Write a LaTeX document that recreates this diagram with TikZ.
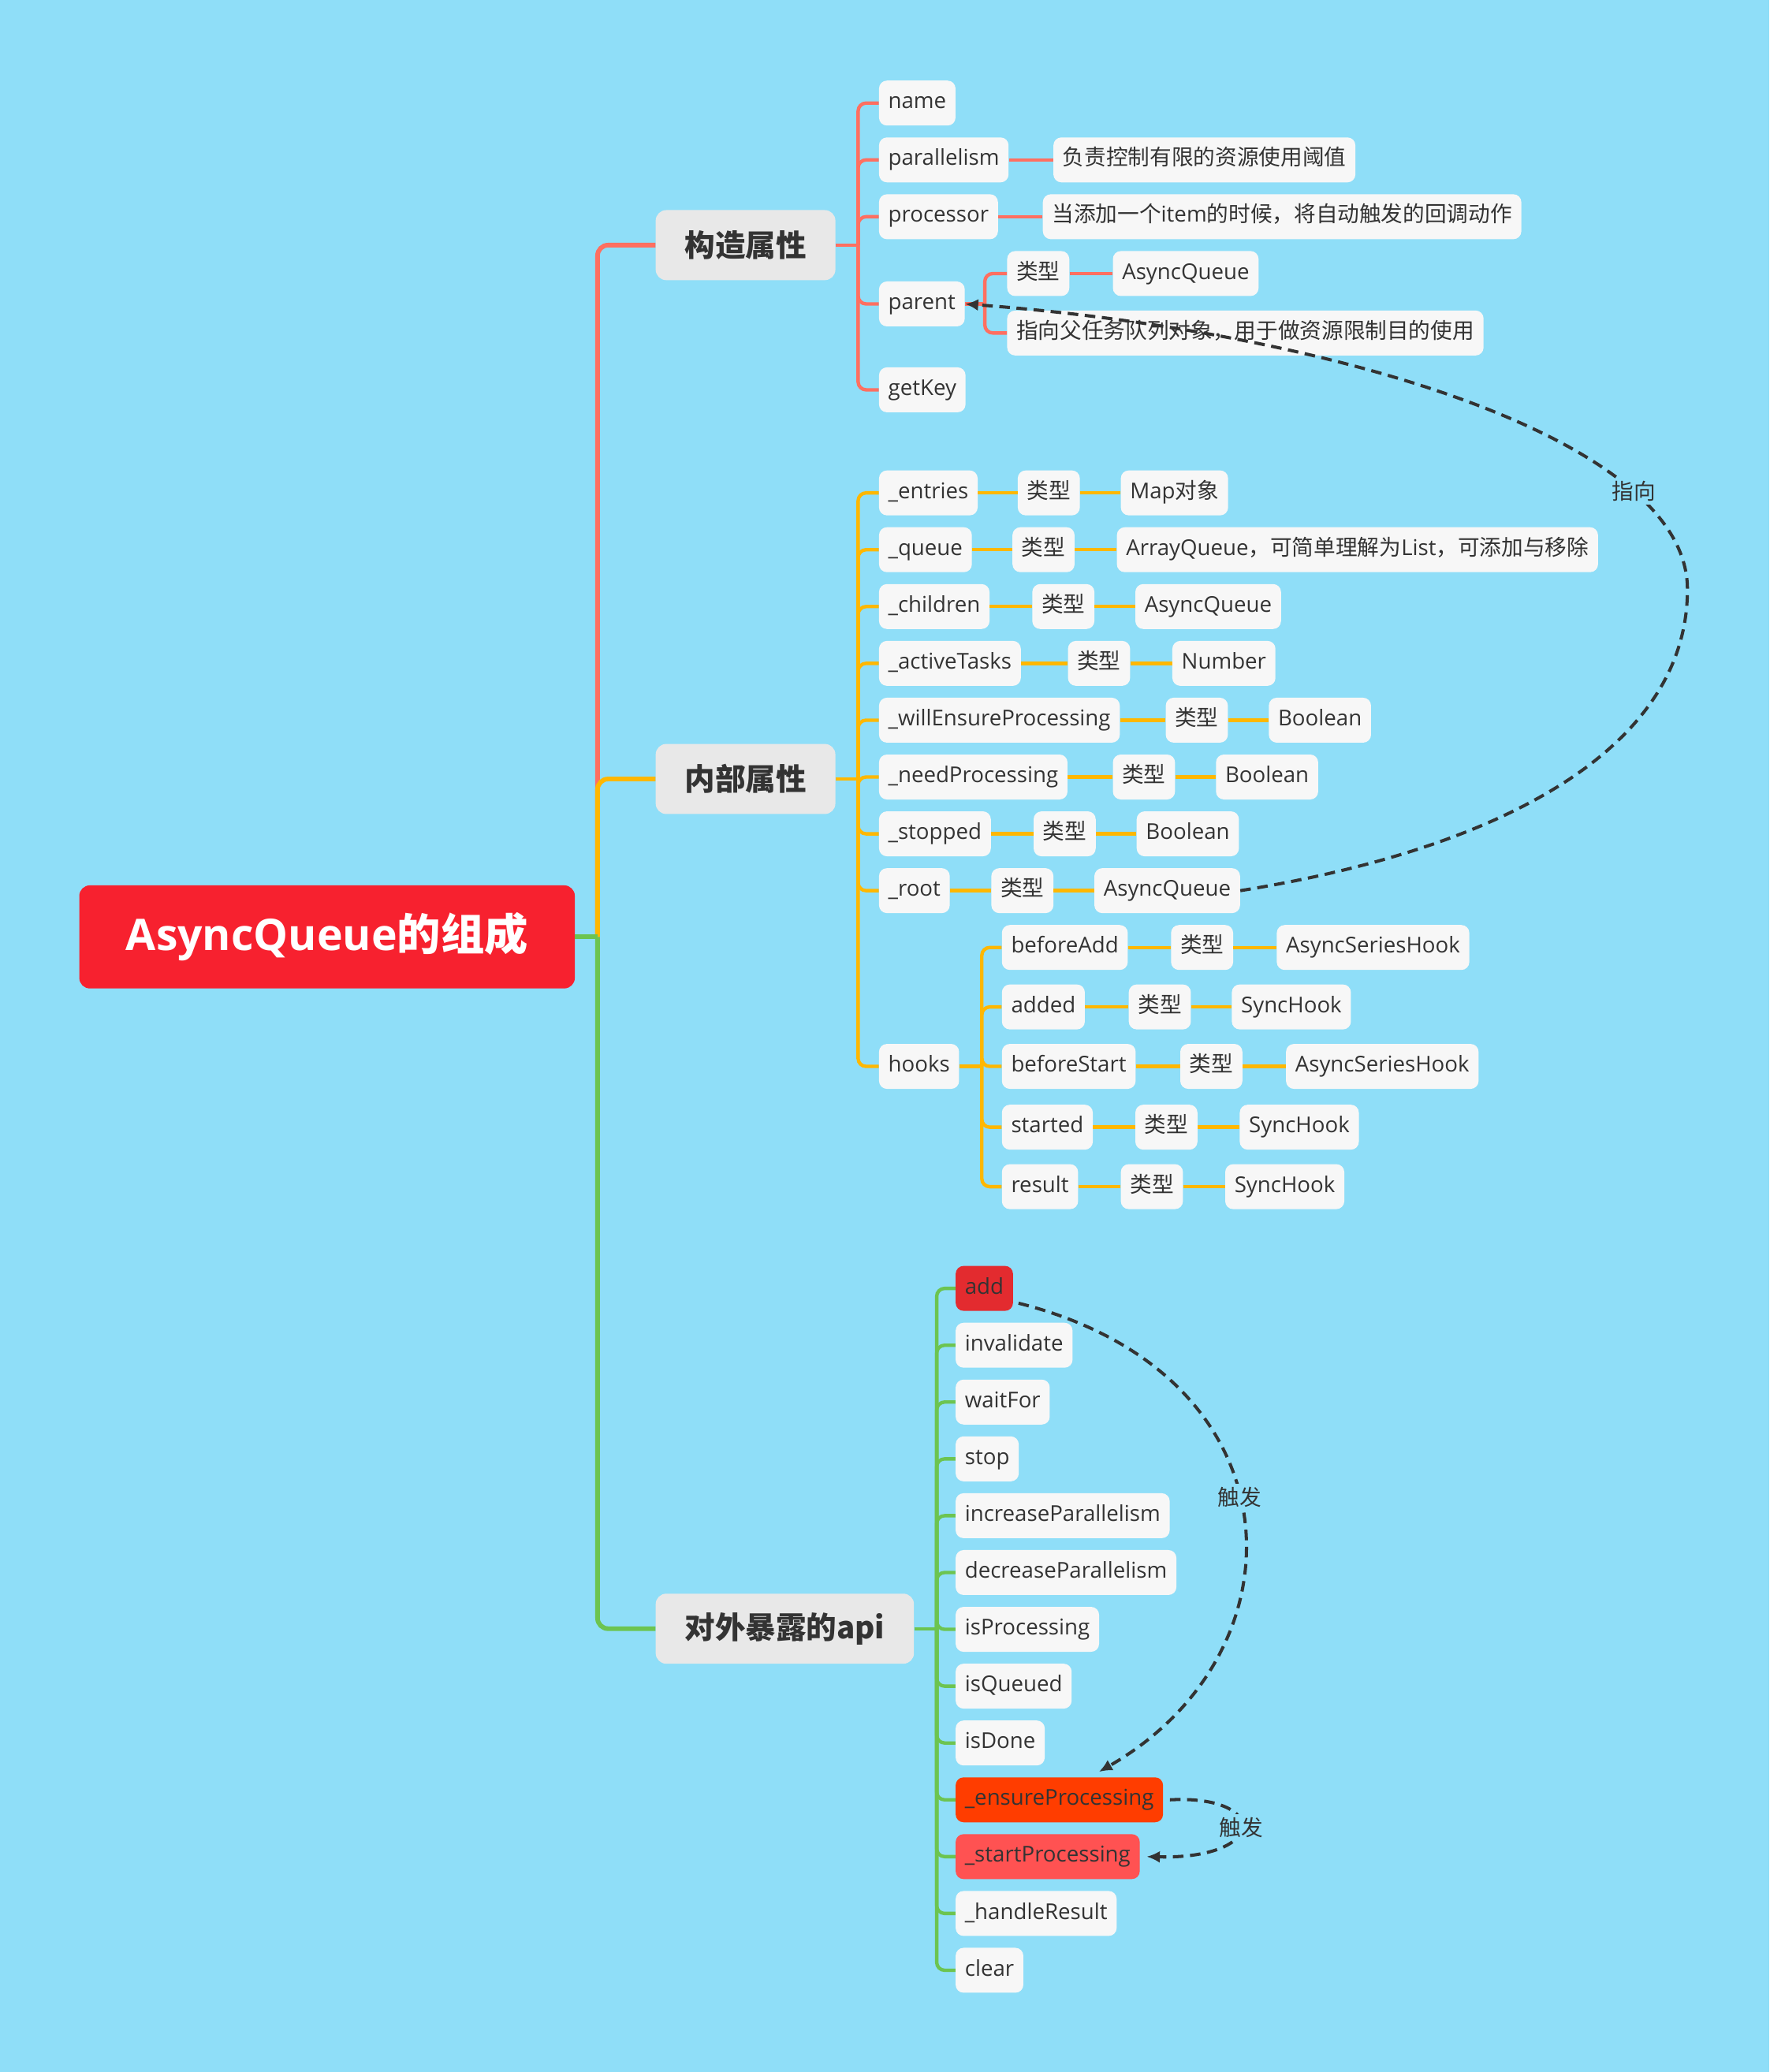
\documentclass[tikz,border=0pt]{standalone}
\usepackage{fontspec}
\setmainfont{Open Sans}
\newfontfamily\cjk{Noto Sans CJK SC}
\newcommand\zh[1]{{\cjk #1}}
\usetikzlibrary{arrows.meta}

\definecolor{sky}{RGB}{143,222,248}
\definecolor{rootred}{RGB}{247,33,47}
\definecolor{topicgray}{RGB}{232,232,232}
\definecolor{leafwhite}{RGB}{247,247,247}
\definecolor{ink}{RGB}{51,51,51}
\definecolor{redline}{RGB}{255,111,97}
\definecolor{orgline}{RGB}{255,183,0}
\definecolor{grnline}{RGB}{108,196,80}
\definecolor{addred}{RGB}{227,43,47}
\definecolor{ensred}{RGB}{255,61,0}
\definecolor{startred}{RGB}{255,82,82}

\begin{document}
\begin{tikzpicture}
    [x=1pt, y=-1pt,
    rootbox/.style={fill=rootred, text=white, rounded corners=8pt, minimum width=375pt, minimum height=78pt, font=\fontsize{33}{40}\selectfont\bfseries},
    topicbox/.style={anchor=west, fill=topicgray, text=ink, rounded corners=8pt, inner xsep=22pt, minimum height=53pt, font=\fontsize{23}{28}\selectfont\bfseries},
    leafbox/.style={anchor=west, fill=leafwhite, text=ink, rounded corners=6pt, inner xsep=7pt, inner ysep=0pt, minimum height=34pt, text height=12pt, text depth=3.5pt, font=\fontsize{16.5}{20}\selectfont},
    lbl/.style={fill=sky, text=ink, inner sep=2pt, font=\fontsize{16.5}{20}\selectfont},
    redmain/.style={redline, line width=3.5pt, rounded corners=8pt},
    orgmain/.style={orgline, line width=3.5pt, rounded corners=8pt},
    grnmain/.style={grnline, line width=3.5pt, rounded corners=8pt},
    redsub/.style={redline, line width=2.6pt, rounded corners=6pt},
    orgsub/.style={orgline, line width=2.6pt, rounded corners=6pt},
    grnsub/.style={grnline, line width=2.6pt, rounded corners=6pt},
    pointer/.style={ink, line width=2.4pt, dash pattern=on 8pt off 5pt, -{Latex[length=10pt,width=9pt]}}]

    \fill[sky] (0,0) rectangle (1339,1568);
    \useasboundingbox (0,0) rectangle (1339,1568);

    \node[rootbox] (root) at (247.5,709) {AsyncQueue\zh{的组成}};

    \node[topicbox] (ctor) at (496,185.5) {\zh{构造属性}};
    \node[topicbox] (inner) at (496,589.5) {\zh{内部属性}};
    \node[topicbox] (api) at (496,1232.5) {\zh{对外暴露的api}};

    % construction attributes
    \node[leafbox] (name) at (665,78) {name};
    \node[leafbox] (par) at (665,121) {parallelism};
    \node[leafbox] (parD) at (797,121) {\zh{负责控制有限的资源使用阈值}};
    \node[leafbox] (proc) at (665,164) {processor};
    \node[leafbox] (procD) at (789,164) {\zh{当添加一个}item\zh{的时候，将自动触发的回调动作}};
    \node[leafbox] (parent) at (665,230) {parent};
    \node[leafbox] (parT) at (762,207) {\zh{类型}};
    \node[leafbox] (parV) at (842,207) {AsyncQueue};
    \node[leafbox] (parN) at (762,252) {\zh{指向父任务队列对象，用于做资源限制目的使用}};
    \node[leafbox] (key) at (665,295) {getKey};

    % inner attributes
    \node[leafbox] (en) at (665,373) {\_entries};
    \node[leafbox] (enT) at (770,373) {\zh{类型}};
    \node[leafbox] (enV) at (848,373) {Map\zh{对象}};
    \node[leafbox] (qu) at (665,416) {\_queue};
    \node[leafbox] (quT) at (766,416) {\zh{类型}};
    \node[leafbox] (quV) at (845,416) {ArrayQueue\zh{，可简单理解为}List\zh{，可添加与移除}};
    \node[leafbox] (ch) at (665,459) {\_children};
    \node[leafbox] (chT) at (781,459) {\zh{类型}};
    \node[leafbox] (chV) at (859,459) {AsyncQueue};
    \node[leafbox] (act) at (665,502) {\_activeTasks};
    \node[leafbox] (actT) at (808,502) {\zh{类型}};
    \node[leafbox] (actV) at (887,502) {Number};
    \node[leafbox] (we) at (665,545) {\_willEnsureProcessing};
    \node[leafbox] (weT) at (882,545) {\zh{类型}};
    \node[leafbox] (weV) at (960,545) {Boolean};
    \node[leafbox] (np) at (665,588) {\_needProcessing};
    \node[leafbox] (npT) at (842,588) {\zh{类型}};
    \node[leafbox] (npV) at (920,588) {Boolean};
    \node[leafbox] (st) at (665,631) {\_stopped};
    \node[leafbox] (stT) at (782,631) {\zh{类型}};
    \node[leafbox] (stV) at (860,631) {Boolean};
    \node[leafbox] (rt) at (665,674) {\_root};
    \node[leafbox] (rtT) at (750,674) {\zh{类型}};
    \node[leafbox] (rtV) at (828,674) {AsyncQueue};
    \node[leafbox] (hk) at (665,807) {hooks};
    \node[leafbox] (ba) at (758,717) {beforeAdd};
    \node[leafbox] (baT) at (886,717) {\zh{类型}};
    \node[leafbox] (baV) at (966,717) {AsyncSeriesHook};
    \node[leafbox] (ad) at (758,762) {added};
    \node[leafbox] (adT) at (854,762) {\zh{类型}};
    \node[leafbox] (adV) at (932,762) {SyncHook};
    \node[leafbox] (bs) at (758,807) {beforeStart};
    \node[leafbox] (bsT) at (893,807) {\zh{类型}};
    \node[leafbox] (bsV) at (973,807) {AsyncSeriesHook};
    \node[leafbox] (sd) at (758,853) {started};
    \node[leafbox] (sdT) at (859,853) {\zh{类型}};
    \node[leafbox] (sdV) at (938,853) {SyncHook};
    \node[leafbox] (rs) at (758,898) {result};
    \node[leafbox] (rsT) at (848,898) {\zh{类型}};
    \node[leafbox] (rsV) at (927,898) {SyncHook};

    % public api
    \node[leafbox, fill=addred] (add) at (723,975) {add};
    \node[leafbox] (inv) at (723,1018) {invalidate};
    \node[leafbox] (wf) at (723,1061) {waitFor};
    \node[leafbox] (stp) at (723,1104) {stop};
    \node[leafbox] (incp) at (723,1147) {increaseParallelism};
    \node[leafbox] (decp) at (723,1190) {decreaseParallelism};
    \node[leafbox] (isp) at (723,1233) {isProcessing};
    \node[leafbox] (isq) at (723,1276) {isQueued};
    \node[leafbox] (isd) at (723,1319) {isDone};
    \node[leafbox, fill=ensred] (ens) at (723,1362) {\_ensureProcessing};
    \node[leafbox, fill=startred] (sp) at (723,1405) {\_startProcessing};
    \node[leafbox] (hr) at (723,1448) {\_handleResult};
    \node[leafbox] (clr) at (723,1491) {clear};

    % main branches
    \coordinate (rj) at ([xshift=17pt]root.east);
    \draw[redmain] (rj) |- (ctor.west);
    \draw[orgmain] (rj) |- (inner.west);
    \draw[grnmain] (root.east) -- (rj);
    \draw[grnmain] (rj) |- (api.west);

    % construction branch
    \coordinate (cj) at ([xshift=17pt]ctor.east);
    \draw[redsub] (ctor.east) -- (cj);
    \draw[redsub] (cj) |- (name.west);
    \draw[redsub] (cj) |- (par.west);
    \draw[redsub] (cj) |- (proc.west);
    \draw[redsub] (cj) |- (parent.west);
    \draw[redsub] (cj) |- (key.west);
    \draw[redsub] (par) -- (parD);
    \draw[redsub] (proc) -- (procD);
    \coordinate (pj) at ([xshift=15pt]parent.east);
    \draw[redsub] (parent.east) -- (pj);
    \draw[redsub] (pj) |- (parT.west);
    \draw[redsub] (pj) |- (parN.west);
    \draw[redsub] (parT) -- (parV);

    % inner branch
    \coordinate (ij) at ([xshift=17pt]inner.east);
    \draw[orgsub] (inner.east) -- (ij);
    \draw[orgsub] (ij) |- (en.west);
    \draw[orgsub] (ij) |- (qu.west);
    \draw[orgsub] (ij) |- (ch.west);
    \draw[orgsub] (ij) |- (act.west);
    \draw[orgsub] (ij) |- (we.west);
    \draw[orgsub] (ij) |- (np.west);
    \draw[orgsub] (ij) |- (st.west);
    \draw[orgsub] (ij) |- (rt.west);
    \draw[orgsub] (ij) |- (hk.west);
    \draw[orgsub] (en) -- (enT) (enT) -- (enV);
    \draw[orgsub] (qu) -- (quT) (quT) -- (quV);
    \draw[orgsub] (ch) -- (chT) (chT) -- (chV);
    \draw[orgsub] (act) -- (actT) (actT) -- (actV);
    \draw[orgsub] (we) -- (weT) (weT) -- (weV);
    \draw[orgsub] (np) -- (npT) (npT) -- (npV);
    \draw[orgsub] (st) -- (stT) (stT) -- (stV);
    \draw[orgsub] (rt) -- (rtT) (rtT) -- (rtV);
    \coordinate (hj) at ([xshift=17pt]hk.east);
    \draw[orgsub] (hk.east) -- (hj);
    \draw[orgsub] (hj) |- (ba.west);
    \draw[orgsub] (hj) |- (ad.west);
    \draw[orgsub] (hj) |- (bs.west);
    \draw[orgsub] (hj) |- (sd.west);
    \draw[orgsub] (hj) |- (rs.west);
    \draw[orgsub] (ba) -- (baT) (baT) -- (baV);
    \draw[orgsub] (ad) -- (adT) (adT) -- (adV);
    \draw[orgsub] (bs) -- (bsT) (bsT) -- (bsV);
    \draw[orgsub] (sd) -- (sdT) (sdT) -- (sdV);
    \draw[orgsub] (rs) -- (rsT) (rsT) -- (rsV);

    % api branch
    \coordinate (aj) at ([xshift=17pt]api.east);
    \draw[grnsub] (api.east) -- (aj);
    \draw[grnsub] (aj) |- (add.west);
    \draw[grnsub] (aj) |- (inv.west);
    \draw[grnsub] (aj) |- (wf.west);
    \draw[grnsub] (aj) |- (stp.west);
    \draw[grnsub] (aj) |- (incp.west);
    \draw[grnsub] (aj) |- (decp.west);
    \draw[grnsub] (aj) |- (isp.west);
    \draw[grnsub] (aj) |- (isq.west);
    \draw[grnsub] (aj) |- (isd.west);
    \draw[grnsub] (aj) |- (ens.west);
    \draw[grnsub] (aj) |- (sp.west);
    \draw[grnsub] (aj) |- (hr.west);
    \draw[grnsub] (aj) |- (clr.west);

    % dashed pointers
    \coordinate (turn) at (1277,446);
    \draw[pointer] (rtV.east) .. controls (1150,640) and (1277,560) .. (turn)
        .. controls (1277,330) and (1000,250) .. (parent.east) node[lbl, pos=0.23] (toLbl) {\zh{指向}};
    \draw[pointer] ([xshift=4pt,yshift=6pt]add.south east) .. controls (985,1040) and (990,1250) .. ([xshift=30pt,yshift=4pt]ens.north) node[lbl, pos=0.46] (fire1) {\zh{触发}};
    \draw[pointer] ([xshift=5pt]ens.east) .. controls (960,1358) and (960,1407) .. ([xshift=5pt]sp.east) node[lbl, pos=0.5] (fire2) {\zh{触发}};

\end{tikzpicture}
\end{document}
